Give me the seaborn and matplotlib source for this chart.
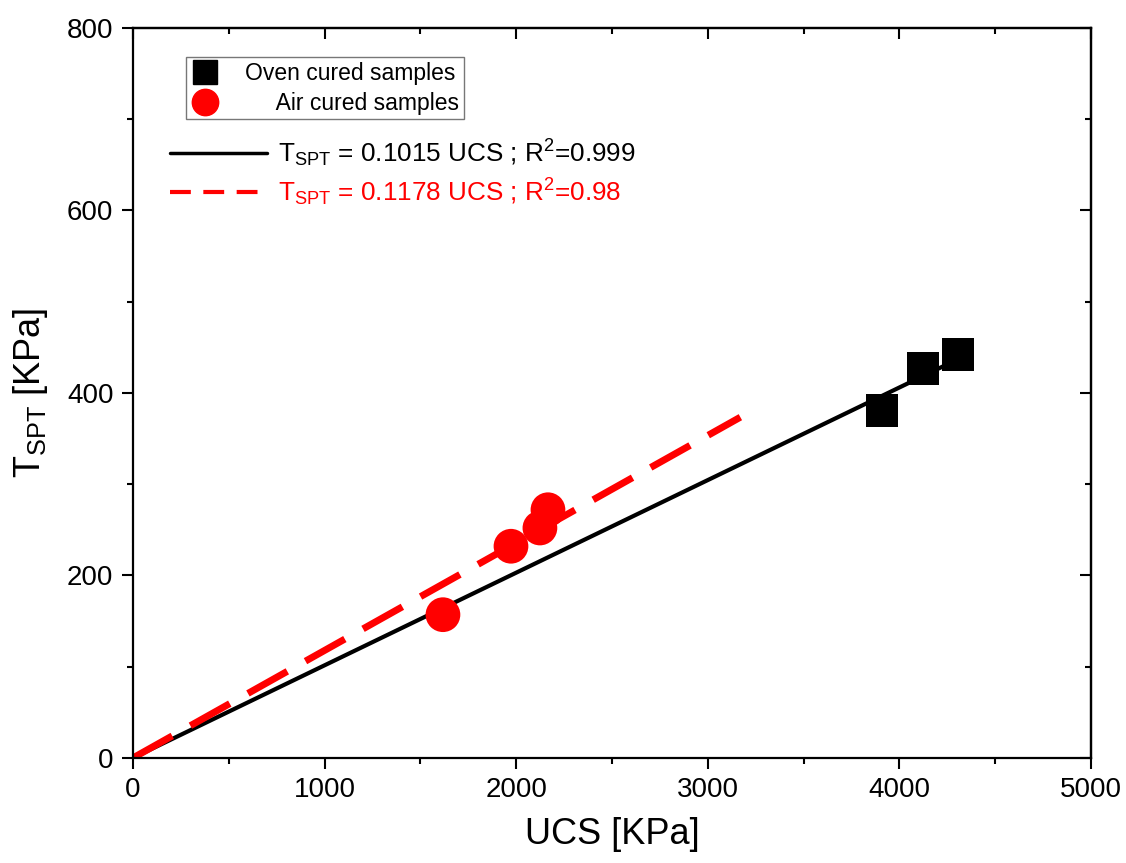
import matplotlib
matplotlib.use("Agg")
import matplotlib.pyplot as plt
import seaborn as sns
import pandas as pd
import numpy as np
from matplotlib.lines import Line2D
from matplotlib.ticker import MultipleLocator

sns.set_style("white")
plt.rcParams['font.family'] = ['Liberation Sans', 'DejaVu Sans']
plt.rcParams['mathtext.default'] = 'regular'
for k in ['text.color', 'axes.labelcolor', 'xtick.color', 'ytick.color', 'axes.edgecolor']:
    plt.rcParams[k] = 'black'

# Data
oven_ucs = [3909, 4123, 4306]
oven_t = [381, 427, 442]
air_ucs = [1618, 1973, 2124, 2166]
air_t = [157, 232, 252, 272]

# Fit lines
oven_slope = 0.1015
air_slope = 0.1178
oven_fit_x = [0, 4300]
air_fit_x = [0, 3170]

oven_df = pd.DataFrame({"UCS": oven_ucs, "T": oven_t})
air_df = pd.DataFrame({"UCS": air_ucs, "T": air_t})
oven_line = pd.DataFrame({"UCS": oven_fit_x, "T": [oven_slope * v for v in oven_fit_x]})
air_line = pd.DataFrame({"UCS": air_fit_x, "T": [air_slope * v for v in air_fit_x]})

fig = plt.figure(figsize=(11.26, 8.63), dpi=100)
ax = fig.add_axes([0.118, 0.1217, 0.851, 0.846])

sns.lineplot(data=oven_line, x="UCS", y="T", ax=ax, color="black", lw=3, zorder=2)
sns.lineplot(data=air_line, x="UCS", y="T", ax=ax, color="#ff0000", lw=5,
             dashes=False, zorder=2)
ax.lines[-1].set_dashes([6.5, 3])
sns.scatterplot(data=oven_df, x="UCS", y="T", ax=ax, marker="s", s=23.5**2,
                color="black", edgecolor="none", zorder=3)
sns.scatterplot(data=air_df, x="UCS", y="T", ax=ax, marker="o", s=25**2,
                color="#ff0000", edgecolor="none", zorder=3)

ax.set_xlim(0, 5000)
ax.set_ylim(0, 800)
ax.xaxis.set_major_locator(MultipleLocator(1000))
ax.xaxis.set_minor_locator(MultipleLocator(500))
ax.yaxis.set_major_locator(MultipleLocator(200))
ax.yaxis.set_minor_locator(MultipleLocator(100))

for s in ax.spines.values():
    s.set_linewidth(1.6)
    s.set_color("black")

ax.tick_params(which="both", bottom=True, left=True, direction="out", width=1.5, colors="black")
ax.tick_params(which="major", length=8, labelsize=20, pad=6)
ax.tick_params(which="minor", length=4.5)
sx = ax.secondary_xaxis("top")
sx.xaxis.set_major_locator(MultipleLocator(1000))
sx.xaxis.set_minor_locator(MultipleLocator(500))
sx.tick_params(which="both", direction="in", width=1.5, labeltop=False)
sx.tick_params(which="major", length=8)
sx.tick_params(which="minor", length=4.5)
sx.spines["top"].set_linewidth(1.6)
sy = ax.secondary_yaxis("right")
sy.yaxis.set_major_locator(MultipleLocator(200))
sy.yaxis.set_minor_locator(MultipleLocator(100))
sy.tick_params(which="both", direction="in", width=1.5, labelright=False)
sy.tick_params(which="major", length=8)
sy.tick_params(which="minor", length=4.5)
sy.spines["right"].set_linewidth(1.6)

ax.set_xlabel("UCS [KPa]", fontsize=26, labelpad=10)
ax.set_ylabel(r"$T_{SPT}$ [KPa]", fontsize=26, labelpad=12)

# Marker legend
h1 = Line2D([], [], marker="s", color="black", ls="none", markersize=17)
h2 = Line2D([], [], marker="o", color="#ff0000", ls="none", markersize=19)
leg1 = ax.legend([h1, h2], ["Oven cured samples", "     Air cured samples"],
                 loc="upper left", bbox_to_anchor=(0.055, 0.960), fontsize=16.5,
                 frameon=True, fancybox=False, edgecolor="#555555",
                 borderpad=0.2, labelspacing=0.3, handletextpad=1.1,
                 handlelength=1.3, borderaxespad=0)
leg1.get_frame().set_linewidth(1.0)
ax.add_artist(leg1)

# Fit legend
l1 = Line2D([], [], color="black", lw=2.5)
l2 = Line2D([], [], color="#ff0000", lw=3, dashes=[5, 3])
leg2 = ax.legend([l1, l2],
                 [r"$T_{SPT}$ = 0.1015 UCS ; $R^2$=0.999",
                  r"$T_{SPT}$ = 0.1178 UCS ; $R^2$=0.98"],
                 loc="upper left", bbox_to_anchor=(0.039, 0.850), fontsize=18.8,
                 frameon=False, handlelength=3.7, handletextpad=0.42,
                 labelspacing=0.3, borderaxespad=0, borderpad=0)
leg2.get_texts()[1].set_color("#ff0000")

fig.savefig("out.png", dpi=100)
